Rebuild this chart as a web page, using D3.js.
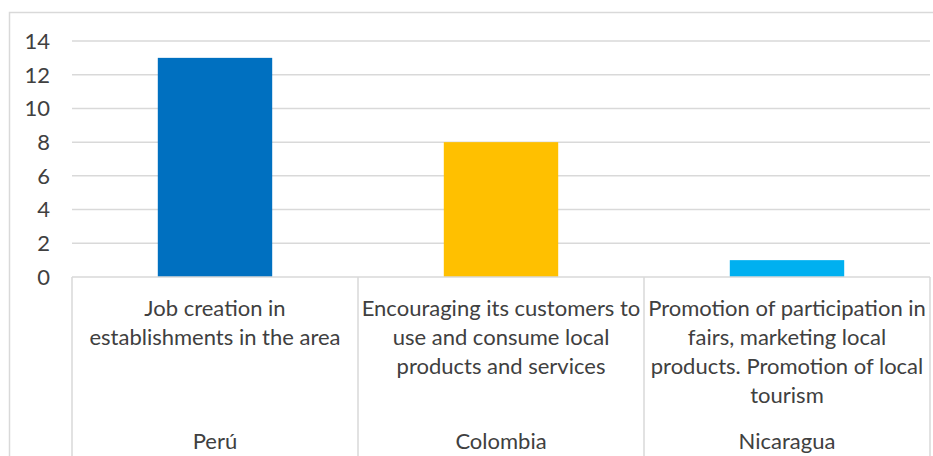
<!DOCTYPE html>
<html>
<head>
<meta charset="utf-8">
<script src="https://cdn.jsdelivr.net/npm/d3@7"></script>
<style>
  html, body { margin: 0; padding: 0; background: #fff; }
  svg { display: block; }
  text { font-family: Lato, "Open Sans", sans-serif; fill: #404040; }
</style>
</head>
<body>
<svg id="chart" width="933" height="456"></svg>
<script>
// Categories: each bar has an action label and the country it belongs to
const countries = ["Perú", "Colombia", "Nicaragua"];
const actions = [
  ["Job creation in", "establishments in the area"],
  ["Encouraging its customers to", "use and consume local", "products and services"],
  ["Promotion of participation in", "fairs, marketing local", "products. Promotion of local", "tourism"]
];
const values = [13, 8, 1];
const barColors = ["#0070C0", "#FFC000", "#00B0F0"];
const yTicks = [0, 2, 4, 6, 8, 10, 12, 14];

const svg = d3.select("#chart");
const margin = { left: 72, top: 41 };
const plotRight = 930;
const plotBottom = 277;
const fontSize = 22;

// Chart frame (extends past the visible area on the right and bottom)
svg.append("rect")
  .attr("x", 9.5).attr("y", 12.5)
  .attr("width", 1000).attr("height", 600)
  .attr("fill", "none").attr("stroke", "#d9d9d9").attr("stroke-width", 1.5);

const x = d3.scaleBand()
  .domain(countries)
  .range([margin.left, plotRight])
  .padding(0);

const y = d3.scaleLinear()
  .domain([0, 14])
  .range([plotBottom, margin.top]);

// Horizontal gridlines
svg.append("g")
  .selectAll("line")
  .data(yTicks.filter(d => d > 0))
  .join("line")
  .attr("x1", margin.left).attr("x2", plotRight)
  .attr("y1", d => y(d)).attr("y2", d => y(d))
  .attr("stroke", "#d9d9d9").attr("stroke-width", 1.5);

// Y tick labels
svg.append("g")
  .selectAll("text")
  .data(yTicks)
  .join("text")
  .attr("x", 50)
  .attr("y", d => y(d))
  .attr("dy", "0.36em")
  .attr("text-anchor", "end")
  .attr("font-size", fontSize)
  .text(d => d);

// Bars
const barFrac = 0.4;
svg.append("g")
  .selectAll("rect")
  .data(countries)
  .join("rect")
  .attr("x", (d) => x(d) + x.bandwidth() * (1 - barFrac) / 2)
  .attr("width", x.bandwidth() * barFrac)
  .attr("y", (d, i) => y(values[i]))
  .attr("height", (d, i) => y(0) - y(values[i]))
  .attr("fill", (d, i) => barColors[i]);

// Category axis: baseline and separators between groups
const axis = svg.append("g");
axis.append("line")
  .attr("x1", margin.left).attr("x2", plotRight)
  .attr("y1", plotBottom).attr("y2", plotBottom)
  .attr("stroke", "#d9d9d9").attr("stroke-width", 1.5);

const seps = countries.map(c => x(c)).concat([x.range()[1]]);
axis.selectAll("line.sep")
  .data(seps)
  .join("line")
  .attr("class", "sep")
  .attr("x1", d => d).attr("x2", d => d)
  .attr("y1", plotBottom).attr("y2", 460)
  .attr("stroke", "#d9d9d9").attr("stroke-width", 1.5);

// Action labels (first level) and country labels (second level)
const lineH = 29;
countries.forEach((c, i) => {
  const cx = x(c) + x.bandwidth() / 2;
  const t = axis.append("text")
    .attr("text-anchor", "middle")
    .attr("font-size", fontSize);
  actions[i].forEach((ln, k) => {
    t.append("tspan")
      .attr("x", cx)
      .attr("y", 315.5 + k * lineH)
      .text(ln);
  });
  axis.append("text")
    .attr("x", cx)
    .attr("y", 449)
    .attr("text-anchor", "middle")
    .attr("font-size", fontSize)
    .text(c);
});
</script>
</body>
</html>
